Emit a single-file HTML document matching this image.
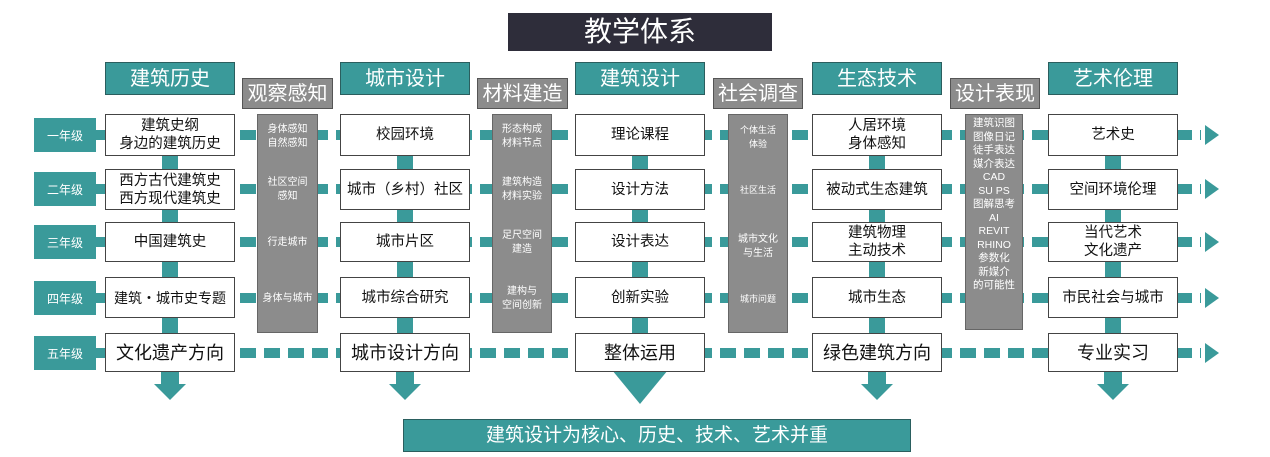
<!DOCTYPE html>
<html><head><meta charset="utf-8"><style>
body{margin:0;width:1270px;height:457px;background:#fff;position:relative;overflow:hidden;font-family:"Liberation Sans","Noto Sans CJK SC",sans-serif}
div{position:absolute;box-sizing:border-box}
.t{background:#3a9a9a}
.h{background:#3a9a9a;color:#fff;font-size:20px;text-align:center;line-height:32px;border:1px solid #2a5e5e;width:130px;height:33px;top:62px}
.gh{background:#8c8c8c;color:#fff;font-size:20px;text-align:center;line-height:30px;border:1px solid #555;height:31px;top:78px}
.y{background:#3a9a9a;color:#fff;font-size:12px;width:62px;height:34px;left:34px;display:flex;align-items:center;justify-content:center}
.b{background:#fff;border:1px solid #444;width:130px;display:flex;align-items:center;justify-content:center;text-align:center;font-size:14.5px;line-height:18px;color:#111}
.g{background:#8c8c8c;border:1px solid #666;top:114px;color:#fff;font-size:10px;text-align:center;line-height:14px}
.g span{position:absolute;left:0;right:0;transform:translateY(-50%)}
.d{left:96px;width:1105px;height:10px;background:repeating-linear-gradient(90deg,#3a9a9a 0 16px,transparent 16px 24px)}
.v{width:16px;background:#3a9a9a;top:120px;height:260px}
.ar{width:0;height:0;border-left:14px solid #3a9a9a;border-top:10px solid transparent;border-bottom:10px solid transparent}
.dn{width:18px;height:14px;background:#3a9a9a;top:370px}
.tri{width:0;height:0;border-top:16px solid #3a9a9a;border-left:16px solid transparent;border-right:16px solid transparent;top:384px}
</style></head><body>
<div style="left:508px;top:13px;width:264px;height:38px;background:#2e2d3a;color:#fff;font-size:28px;text-align:center;line-height:38px">教学体系</div>

<div class="h" style="left:105px">建筑历史</div>
<div class="h" style="left:340px">城市设计</div>
<div class="h" style="left:575px">建筑设计</div>
<div class="h" style="left:812px">生态技术</div>
<div class="h" style="left:1048px">艺术伦理</div>
<div class="gh" style="left:242px;width:91px">观察感知</div>
<div class="gh" style="left:477px;width:91px">材料建造</div>
<div class="gh" style="left:713px;width:90px">社会调查</div>
<div class="gh" style="left:950px;width:90px">设计表现</div>

<div class="d" style="top:130px"></div>
<div class="d" style="top:184px"></div>
<div class="d" style="top:237px"></div>
<div class="d" style="top:293px"></div>
<div class="d" style="top:348px"></div>
<div class="ar" style="left:1205px;top:125px"></div>
<div class="ar" style="left:1205px;top:179px"></div>
<div class="ar" style="left:1205px;top:232px"></div>
<div class="ar" style="left:1205px;top:288px"></div>
<div class="ar" style="left:1205px;top:343px"></div>

<div class="v" style="left:162px"></div>
<div class="v" style="left:397px"></div>
<div class="v" style="left:632px"></div>
<div class="v" style="left:869px"></div>
<div class="v" style="left:1105px"></div>

<div class="dn" style="left:161px"></div><div class="tri" style="left:154px"></div>
<div class="dn" style="left:396px"></div><div class="tri" style="left:389px"></div>
<div class="dn" style="left:868px"></div><div class="tri" style="left:861px"></div>
<div class="dn" style="left:1104px"></div><div class="tri" style="left:1097px"></div>
<div style="left:612px;top:370px;width:0;height:0;border-top:34px solid #3a9a9a;border-left:28px solid transparent;border-right:28px solid transparent"></div>

<div class="y" style="top:118px">一年级</div>
<div class="y" style="top:172px">二年级</div>
<div class="y" style="top:225px">三年级</div>
<div class="y" style="top:281px">四年级</div>
<div class="y" style="top:336px">五年级</div>

<div class="g" style="left:257px;width:61px;height:219px"><span style="top:22px">身体感知<br>自然感知</span><span style="top:75px">社区空间<br>感知</span><span style="top:128px">行走城市</span><span style="top:184px">身体与城市</span></div>
<div class="g" style="left:492px;width:60px;height:219px"><span style="top:22px">形态构成<br>材料节点</span><span style="top:75px">建筑构造<br>材料实验</span><span style="top:128px">足尺空间<br>建造</span><span style="top:184px">建构与<br>空间创新</span></div>
<div class="g" style="left:728px;width:60px;height:219px;font-size:9px"><span style="top:22px">个体生活<br>体验</span><span style="top:75px">社区生活</span><span style="top:132px;font-size:10px">城市文化<br>与生活</span><span style="top:184px">城市问题</span></div>
<div class="g" style="left:965px;width:58px;height:216px;font-size:10.5px;line-height:13.5px;padding-top:2px">建筑识图<br>图像日记<br>徒手表达<br>媒介表达<br>CAD<br>SU PS<br>图解思考<br>AI<br>REVIT<br>RHINO<br>参数化<br>新媒介<br>的可能性</div>

<div class="b" style="left:105px;top:114px;height:42px">建筑史纲<br>身边的建筑历史</div>
<div class="b" style="left:105px;top:169px;height:41px">西方古代建筑史<br>西方现代建筑史</div>
<div class="b" style="left:105px;top:222px;height:40px">中国建筑史</div>
<div class="b" style="left:105px;top:277px;height:41px;font-size:14px">建筑・城市史专题</div>
<div class="b" style="left:105px;top:333px;height:39px;font-size:18px">文化遗产方向</div>

<div class="b" style="left:340px;top:114px;height:42px">校园环境</div>
<div class="b" style="left:340px;top:169px;height:41px">城市（乡村）社区</div>
<div class="b" style="left:340px;top:222px;height:40px">城市片区</div>
<div class="b" style="left:340px;top:277px;height:41px">城市综合研究</div>
<div class="b" style="left:340px;top:333px;height:39px;font-size:18px">城市设计方向</div>

<div class="b" style="left:575px;top:114px;height:42px">理论课程</div>
<div class="b" style="left:575px;top:169px;height:41px">设计方法</div>
<div class="b" style="left:575px;top:222px;height:40px">设计表达</div>
<div class="b" style="left:575px;top:277px;height:41px">创新实验</div>
<div class="b" style="left:575px;top:333px;height:39px;font-size:18px">整体运用</div>

<div class="b" style="left:812px;top:114px;height:42px">人居环境<br>身体感知</div>
<div class="b" style="left:812px;top:169px;height:41px">被动式生态建筑</div>
<div class="b" style="left:812px;top:222px;height:40px">建筑物理<br>主动技术</div>
<div class="b" style="left:812px;top:277px;height:41px">城市生态</div>
<div class="b" style="left:812px;top:333px;height:39px;font-size:18px">绿色建筑方向</div>

<div class="b" style="left:1048px;top:114px;height:42px">艺术史</div>
<div class="b" style="left:1048px;top:169px;height:41px">空间环境伦理</div>
<div class="b" style="left:1048px;top:222px;height:40px">当代艺术<br>文化遗产</div>
<div class="b" style="left:1048px;top:277px;height:41px">市民社会与城市</div>
<div class="b" style="left:1048px;top:333px;height:39px;font-size:18px">专业实习</div>

<div style="left:403px;top:419px;width:508px;height:33px;background:#3a9a9a;border:1px solid #2a5e5e;color:#fff;font-size:19px;text-align:center;line-height:31px">建筑设计为核心、历史、技术、艺术并重</div>
</body></html>
